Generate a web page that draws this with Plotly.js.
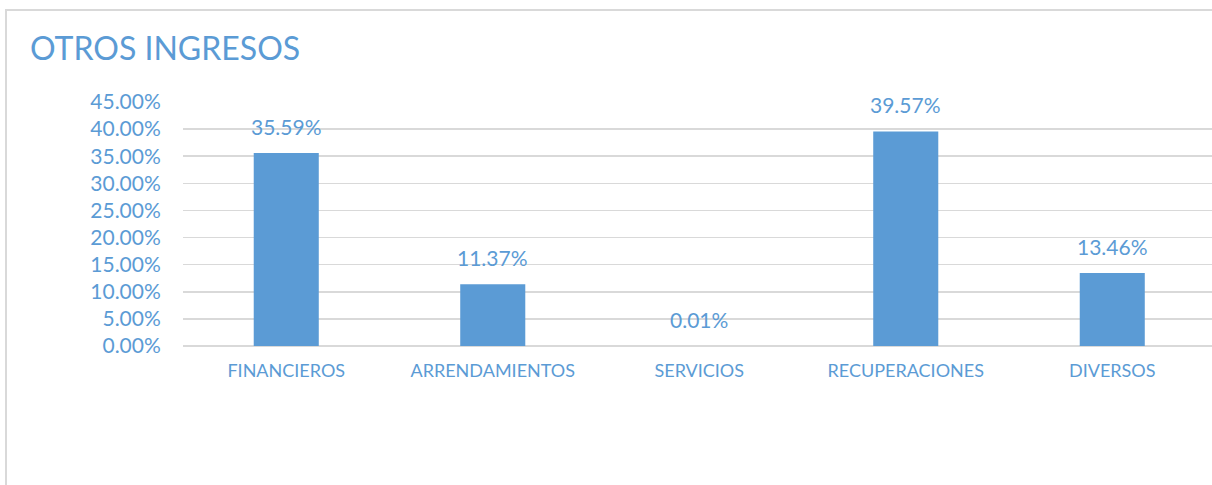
<!DOCTYPE html>
<html>
<head>
<meta charset="utf-8">
<script src="https://cdn.plot.ly/plotly-3.0.1.min.js"></script>
<style>
  html, body { margin: 0; padding: 0; background: #ffffff; overflow: hidden; }
  #chart { width: 1212px; height: 485px; }
  #frame { position: absolute; left: 5px; top: 9px; width: 1300px; height: 476px;
           border-top: 2px solid #d9d9d9; border-left: 2px solid #d9d9d9; pointer-events: none; box-sizing: border-box; }
</style>
</head>
<body>
<div id="chart"></div>
<div id="frame"></div>
<script>
const categories = ["FINANCIEROS", "ARRENDAMIENTOS", "SERVICIOS", "RECUPERACIONES", "DIVERSOS"];
const values = [35.59, 11.37, 0.01, 39.57, 13.46];
const yTicks = [0, 5, 10, 15, 20, 25, 30, 35, 40, 45];

const blue = "#5B9BD5";
const font = "Lato, 'Open Sans', sans-serif";

const trace = {
  type: "bar",
  x: categories,
  y: values,
  marker: { color: blue },
  width: 0.315,
  hoverinfo: "skip"
};

const annotations = categories.map((c, i) => ({
  x: c, y: values[i], xref: "x", yref: "y",
  text: values[i].toFixed(2) + "%",
  showarrow: false, yanchor: "bottom", yshift: 12,
  font: { family: font, size: 21, color: blue }
}));

const layout = {
  width: 1212, height: 485,
  paper_bgcolor: "#ffffff", plot_bgcolor: "#ffffff",
  margin: { l: 183, r: 0, t: 102, b: 139 },
  showlegend: false,
  title: {
    text: "OTROS INGRESOS",
    x: 30 / 1212, xanchor: "left", xref: "container",
    y: 1 - 49 / 485, yanchor: "middle", yref: "container",
    font: { family: font, size: 32, color: blue }
  },
  xaxis: {
    type: "category",
    range: [-0.5, 4.483],
    showgrid: false, zeroline: false, showline: false,
    ticks: "outside", ticklen: 8, tickcolor: "rgba(0,0,0,0)",
    tickfont: { family: font, size: 18, color: blue }
  },
  yaxis: {
    range: [0, 45],
    tickvals: yTicks,
    ticktext: yTicks.map(v => v.toFixed(2) + "%"),
    showgrid: true, gridcolor: "#d9d9d9", gridwidth: 1.5,
    zeroline: true, zerolinecolor: "#d9d9d9", zerolinewidth: 1.5,
    showline: false,
    ticks: "outside", ticklen: 17, tickcolor: "rgba(0,0,0,0)",
    tickfont: { family: font, size: 21, color: blue }
  },
  annotations: annotations
};

Plotly.newPlot("chart", [trace], layout, { displayModeBar: false, staticPlot: true });
</script>
</body>
</html>
